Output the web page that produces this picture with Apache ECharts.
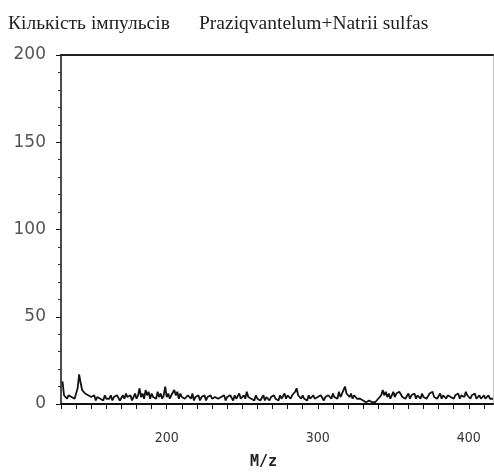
<!DOCTYPE html>
<html>
<head>
<meta charset="utf-8">
<script src="https://cdn.jsdelivr.net/npm/echarts@6/dist/echarts.min.js"></script>
<style>
  html, body { margin: 0; padding: 0; background: #fff; }
  #main { width: 494px; height: 472px; }
</style>
</head>
<body>
<div id="main"></div>
<script>
// m/z runs from mzStart upward in steps of 1
var mzStart = 131;
var counts = [
    13, 5, 4, 3, 5, 4, 4, 5, 3, 4,      // 131-140
    9, 17, 12, 8, 7, 6, 7, 5, 6, 4,     // 141-150
    3, 5, 2, 4, 5, 3, 4, 2, 5, 3,
    4, 3, 5, 2, 4, 3, 5, 4, 2, 3,
    5, 3, 6, 4, 3, 5, 2, 4, 6, 3,
    5, 9, 4, 6, 3, 8, 5, 7, 3, 6,       // 181-190
    4, 5, 3, 7, 4, 6, 3, 5, 10, 4,
    6, 3, 5, 4, 8, 5, 7, 3, 6, 4,       // 201-210
    5, 3, 2, 5, 4, 3, 6, 2, 4, 3,
    5, 2, 4, 3, 5, 2, 4, 3, 5, 3,
    2, 4, 5, 3, 2, 4, 3, 5, 2, 4,
    3, 5, 4, 2, 5, 3, 4, 6, 3, 4,
    5, 3, 7, 4, 5, 3, 4, 2, 5, 3,       // 251-260
    4, 2, 3, 5, 2, 4, 3, 2, 4, 3,
    5, 3, 4, 2, 5, 3, 4, 6, 3, 5,
    4, 3, 5, 4, 7, 9, 5, 4, 3, 5,       // 281-290
    3, 4, 2, 5, 3, 4, 5, 3, 2, 4,
    3, 5, 4, 2, 4, 3, 5, 4, 3, 6,
    4, 5, 3, 7, 4, 6, 8, 10, 6, 5,      // 311-320
    4, 6, 3, 5, 4, 3, 2, 3, 4, 2,
    2, 1, 1, 2, 1, 1, 2, 1, 2, 3,       // 331-340
    2, 5, 8, 5, 7, 4, 6, 3, 5, 7,
    4, 6, 5, 7, 6, 4, 5, 3, 4, 6,       // 351-360
    3, 5, 4, 6, 3, 5, 4, 3, 6, 4,
    5, 3, 4, 6, 5, 7, 4, 5, 3, 4,
    6, 3, 5, 4, 3, 5, 6, 4, 5, 3,
    5, 4, 6, 3, 5, 6, 4, 7, 5, 4,       // 391-400
    3, 5, 4, 6, 3, 4, 5, 3, 4, 5,
    3, 4, 5, 3, 4, 3                    // 411-416
];
var xTickLabels = [200, 300, 400];
var yTickLabels = [0, 50, 100, 150, 200];
var titleLeft = 'Кількість імпульсів';
var titleRight = 'Praziqvantelum+Natrii sulfas';
var xName = 'M/z';

var points = counts.map(function (v, i) { return [mzStart + i, v]; });

var serifTitle = { fontFamily: 'Liberation Serif', fontSize: 19.5, fontWeight: 'normal', color: '#222' };

var myChart = echarts.init(document.getElementById('main'));
var option = {
    animation: false,
    backgroundColor: '#fff',
    title: [
        { text: titleLeft, left: 8, top: 14, padding: 0, textStyle: serifTitle },
        { text: titleRight, left: 199, top: 14, padding: 0, textStyle: serifTitle },
        { text: xName, left: 250, top: 455, padding: 0,
          textStyle: { fontFamily: 'DejaVu Sans Mono', fontSize: 15, fontWeight: 'bold', color: '#222' } }
    ],
    grid: { left: 61, right: 1, top: 55, bottom: 68 },
    xAxis: [{
        type: 'value',
        min: 130,
        max: 416,
        interval: 10,
        splitLine: { show: false },
        axisLine: { lineStyle: { color: '#111', width: 2 } },
        axisTick: { length: 5, lineStyle: { color: '#111' } },
        axisLabel: {
            margin: 27,
            fontFamily: 'DejaVu Sans Condensed',
            fontSize: 14,
            color: '#333',
            showMaxLabel: false,
            formatter: function (v) { return xTickLabels.indexOf(v) >= 0 ? String(v) : ''; }
        }
    }, {
        type: 'value',
        position: 'top',
        min: 130,
        max: 416,
        axisLine: { onZero: false, lineStyle: { color: '#222', width: 2 } },
        axisTick: { show: false },
        axisLabel: { show: false },
        splitLine: { show: false }
    }],
    yAxis: [{
        type: 'value',
        min: 0,
        max: 200,
        interval: 50,
        splitLine: { show: false },
        axisLine: { show: true, lineStyle: { color: '#111', width: 1.5 } },
        axisTick: { show: true, length: 5, lineStyle: { color: '#111' } },
        minorTick: { show: true, splitNumber: 5, length: 3, lineStyle: { color: '#333' } },
        axisLabel: {
            margin: 15,
            fontFamily: 'DejaVu Sans',
            fontSize: 17,
            color: '#555',
            formatter: function (v) { return yTickLabels.indexOf(v) >= 0 ? String(v) : ''; }
        }
    }, {
        type: 'value',
        position: 'right',
        min: 0,
        max: 200,
        axisLine: { show: true, lineStyle: { color: '#c8c8c8', width: 1 } },
        axisTick: { show: false },
        axisLabel: { show: false },
        splitLine: { show: false }
    }],
    series: [{
        type: 'line',
        data: points,
        showSymbol: false,
        lineStyle: { color: '#111', width: 1.8 }
    }]
};
myChart.setOption(option);
</script>
</body>
</html>
